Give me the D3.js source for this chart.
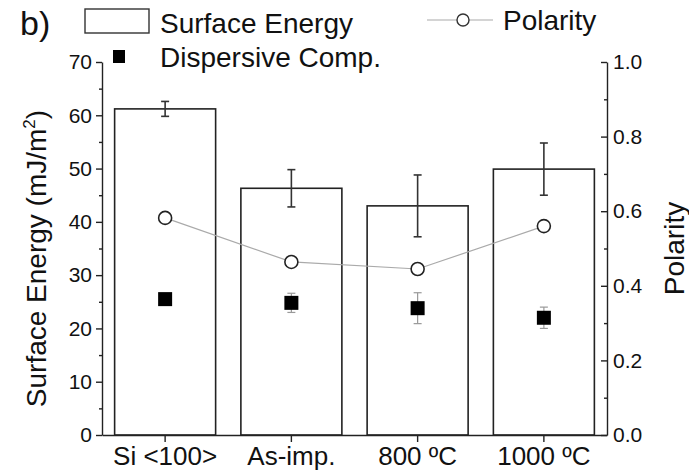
<!DOCTYPE html>
<html>
<head>
<meta charset="utf-8">
<script src="https://cdn.jsdelivr.net/npm/d3@7"></script>
<style>
  body { margin: 0; background: #fff; }
  text { font-family: "Liberation Sans", Arial, sans-serif; fill: #111; }
</style>
</head>
<body>
<div id="chart"></div>
<script>
var categories = ["Si <100>", "As-imp.", "800 ºC", "1000 ºC"];
var surfaceEnergy = [61.2, 46.3, 43.0, 49.9];
var surfaceErr = [1.4, 3.5, 5.8, 4.9];
var dispersive = [25.5, 24.8, 23.8, 22.0];
var dispersiveErr = [0.5, 1.8, 2.9, 2.0];
var polarity = [0.582, 0.464, 0.445, 0.56];
var leftTicks = [0, 10, 20, 30, 40, 50, 60, 70];
var rightTicks = [0, 0.2, 0.4, 0.6, 0.8, 1.0];

var width = 689, height = 475;
var margin = {left: 102, right: 82, top: 62, bottom: 40};

var svg = d3.select("#chart").append("svg")
  .attr("width", width)
  .attr("height", height);

var x = d3.scaleBand()
  .domain(categories)
  .range([margin.left, width - margin.right])
  .paddingInner(0.2)
  .paddingOuter(0.1);

var y = d3.scaleLinear().domain([0, 70]).range([height - margin.bottom, margin.top]);
var y2 = d3.scaleLinear().domain([0, 1]).range([height - margin.bottom, margin.top]);

var data = categories.map((c, i) => ({
  cat: c, se: surfaceEnergy[i], seErr: surfaceErr[i],
  disp: dispersive[i], dispErr: dispersiveErr[i], pol: polarity[i]
}));

// bars
svg.append("g").selectAll("rect")
  .data(data).enter().append("rect")
  .attr("x", d => x(d.cat))
  .attr("y", d => y(d.se))
  .attr("width", x.bandwidth())
  .attr("height", d => y(0) - y(d.se))
  .attr("fill", "#fff")
  .attr("stroke", "#222")
  .attr("stroke-width", 1.6);

// error bars on bars
var cx = d => x(d.cat) + x.bandwidth() / 2;
var eb = svg.append("g").attr("stroke", "#333").attr("stroke-width", 1.6);
data.forEach(d => {
  eb.append("line").attr("x1", cx(d)).attr("x2", cx(d))
    .attr("y1", y(d.se + d.seErr)).attr("y2", y(d.se - d.seErr));
  [d.se + d.seErr, d.se - d.seErr].forEach(v => {
    eb.append("line").attr("x1", cx(d) - 4).attr("x2", cx(d) + 4)
      .attr("y1", y(v)).attr("y2", y(v));
  });
});

// dispersive error bars + squares
var eb2 = svg.append("g").attr("stroke", "#999").attr("stroke-width", 1.2);
data.forEach(d => {
  eb2.append("line").attr("x1", cx(d)).attr("x2", cx(d))
    .attr("y1", y(d.disp + d.dispErr)).attr("y2", y(d.disp - d.dispErr));
  [d.disp + d.dispErr, d.disp - d.dispErr].forEach(v => {
    eb2.append("line").attr("x1", cx(d) - 4).attr("x2", cx(d) + 4)
      .attr("y1", y(v)).attr("y2", y(v));
  });
});
svg.append("g").selectAll("rect")
  .data(data).enter().append("rect")
  .attr("x", d => cx(d) - 7)
  .attr("y", d => y(d.disp) - 7)
  .attr("width", 14).attr("height", 14)
  .attr("fill", "#000");

// polarity line
var line = d3.line().x(d => cx(d)).y(d => y2(d.pol));
svg.append("path").datum(data)
  .attr("d", line)
  .attr("fill", "none")
  .attr("stroke", "#aaa")
  .attr("stroke-width", 1.2);
svg.append("g").selectAll("circle")
  .data(data).enter().append("circle")
  .attr("cx", cx).attr("cy", d => y2(d.pol))
  .attr("r", 6.5)
  .attr("fill", "#fff")
  .attr("stroke", "#222")
  .attr("stroke-width", 1.6);

// axes
function styleAxis(g) {
  g.selectAll("path, line").attr("stroke", "#222").attr("stroke-width", 1.4);
  g.selectAll("text").style("font-size", "21px").attr("fill", "#111");
}
svg.append("g")
  .attr("transform", `translate(${margin.left},0)`)
  .call(d3.axisLeft(y).tickValues(leftTicks).tickSize(6).tickSizeOuter(0).tickPadding(4))
  .call(styleAxis);
svg.append("g")
  .attr("transform", `translate(${margin.left},0)`)
  .call(d3.axisLeft(y).tickValues(d3.range(5, 70, 10)).tickSize(3).tickFormat(""))
  .call(g => g.select(".domain").remove())
  .call(styleAxis);

// right axis: ticks point inward
var rightAxis = svg.append("g")
  .attr("transform", `translate(${width - margin.right},0)`)
  .call(d3.axisRight(y2).tickValues(rightTicks).tickSize(6).tickSizeOuter(0).tickPadding(4).tickFormat(d3.format(".1f")))
  .call(styleAxis);
rightAxis.selectAll(".tick line").attr("x2", -6);
rightAxis.selectAll(".tick text").attr("x", 6);
svg.append("g")
  .attr("transform", `translate(${width - margin.right},0)`)
  .call(d3.axisRight(y2).tickValues([0.1, 0.3, 0.5, 0.7, 0.9]).tickSize(3).tickFormat(""))
  .call(g => g.select(".domain").remove())
  .call(styleAxis)
  .call(g => g.selectAll(".tick line").attr("x2", -3));

svg.append("g")
  .attr("transform", `translate(0,${height - margin.bottom})`)
  .call(d3.axisBottom(x).tickSize(7).tickSizeOuter(0).tickPadding(5))
  .call(styleAxis)
  .call(g => g.selectAll("text").style("font-size", "26px"));

// axis titles
svg.append("text")
  .attr("transform", `translate(46,${(margin.top + height - margin.bottom) / 2 + 10}) rotate(-90)`)
  .attr("text-anchor", "middle")
  .style("font-size", "28px")
  .text("Surface Energy (mJ/m")
  .append("tspan").attr("dy", -11).style("font-size", "17px").text("2")
  .select(function() { return this.parentNode; })
  .append("tspan").attr("dy", 11).text(")");

svg.append("text")
  .attr("transform", `translate(684,${(margin.top + height - margin.bottom) / 2}) rotate(-90)`)
  .attr("text-anchor", "middle")
  .style("font-size", "28px")
  .text("Polarity");

// panel label and legend
svg.append("text").attr("x", 20).attr("y", 35).style("font-size", "34px").text("b)");

var leg = svg.append("g");
leg.append("rect").attr("x", 85).attr("y", 9).attr("width", 64).attr("height", 24)
  .attr("fill", "#fff").attr("stroke", "#333").attr("stroke-width", 1.4);
leg.append("text").attr("x", 160).attr("y", 33).style("font-size", "28px").text("Surface Energy");
leg.append("rect").attr("x", 113).attr("y", 50).attr("width", 12).attr("height", 13).attr("fill", "#000");
leg.append("text").attr("x", 160).attr("y", 67).style("font-size", "28px").text("Dispersive Comp.");
leg.append("line").attr("x1", 427).attr("x2", 493).attr("y1", 20).attr("y2", 20)
  .attr("stroke", "#aaa").attr("stroke-width", 1.2);
leg.append("circle").attr("cx", 463).attr("cy", 20).attr("r", 6)
  .attr("fill", "#fff").attr("stroke", "#333").attr("stroke-width", 1.4);
leg.append("text").attr("x", 503).attr("y", 30).style("font-size", "28px").text("Polarity");
</script>
</body>
</html>
